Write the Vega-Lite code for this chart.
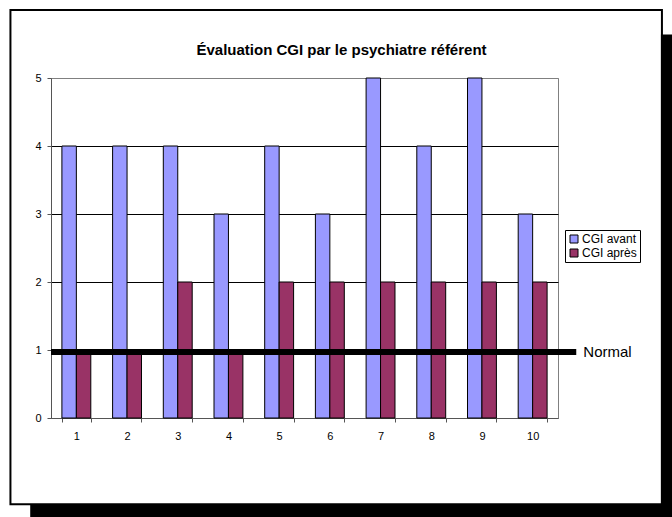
{
  "$schema": "https://vega.github.io/schema/vega-lite/v6.json",
  "width": 507,
  "height": 340,
  "autosize": "none",
  "padding": {"left": 51, "top": 78, "right": 114, "bottom": 99},
  "background": "white",
  "title": {
    "text": "Évaluation CGI par le psychiatre référent",
    "font": "Liberation Sans",
    "fontSize": 15,
    "fontWeight": "bold",
    "color": "black",
    "anchor": "middle",
    "dx": 37,
    "offset": -49
  },
  "config": {
    "font": "Liberation Sans",
    "view": {"stroke": "#808080", "strokeWidth": 1}
  },
  "data": {
    "values": [
      {"patient": 1, "serie": "CGI avant", "cgi": 4},
      {"patient": 1, "serie": "CGI après", "cgi": 1},
      {"patient": 2, "serie": "CGI avant", "cgi": 4},
      {"patient": 2, "serie": "CGI après", "cgi": 1},
      {"patient": 3, "serie": "CGI avant", "cgi": 4},
      {"patient": 3, "serie": "CGI après", "cgi": 2},
      {"patient": 4, "serie": "CGI avant", "cgi": 3},
      {"patient": 4, "serie": "CGI après", "cgi": 1},
      {"patient": 5, "serie": "CGI avant", "cgi": 4},
      {"patient": 5, "serie": "CGI après", "cgi": 2},
      {"patient": 6, "serie": "CGI avant", "cgi": 3},
      {"patient": 6, "serie": "CGI après", "cgi": 2},
      {"patient": 7, "serie": "CGI avant", "cgi": 5},
      {"patient": 7, "serie": "CGI après", "cgi": 2},
      {"patient": 8, "serie": "CGI avant", "cgi": 4},
      {"patient": 8, "serie": "CGI après", "cgi": 2},
      {"patient": 9, "serie": "CGI avant", "cgi": 5},
      {"patient": 9, "serie": "CGI après", "cgi": 2},
      {"patient": 10, "serie": "CGI avant", "cgi": 3},
      {"patient": 10, "serie": "CGI après", "cgi": 2}
    ]
  },
  "resolve": {"scale": {"x": "independent"}},
  "layer": [
    {
      "description": "Drop shadow, bottom strip",
      "data": {"values": [{}]},
      "mark": {"type": "rect", "fill": "black", "clip": false},
      "encoding": {
        "x": {"datum": -0.41, "type": "quantitative", "scale": {"domain": [0, 10], "nice": false, "zero": false}, "axis": null},
        "x2": {"datum": 12.6},
        "y": {"datum": -1.275, "type": "quantitative", "scale": {"domain": [0, 5], "nice": false}},
        "y2": {"datum": -1.7}
      }
    },
    {
      "description": "Drop shadow, right strip",
      "data": {"values": [{}]},
      "mark": {"type": "rect", "fill": "black", "clip": false},
      "encoding": {
        "x": {"datum": 12.03, "type": "quantitative", "scale": {"domain": [0, 10], "nice": false, "zero": false}, "axis": null},
        "x2": {"datum": 12.6},
        "y": {"datum": 5.64, "type": "quantitative"},
        "y2": {"datum": -1.7}
      }
    },
    {
      "description": "Chart frame",
      "data": {"values": [{}]},
      "mark": {"type": "rect", "fill": null, "stroke": "black", "strokeWidth": 2, "clip": false},
      "encoding": {
        "x": {"datum": -0.8, "type": "quantitative", "scale": {"domain": [0, 10], "nice": false, "zero": false}, "axis": null},
        "x2": {"datum": 12.05},
        "y": {"datum": 6.0, "type": "quantitative"},
        "y2": {"datum": -1.27}
      }
    },
    {
      "mark": {"type": "bar", "stroke": "black", "strokeWidth": 1},
      "encoding": {
        "x": {
          "field": "patient",
          "type": "ordinal",
          "scale": {"paddingInner": 0.43, "paddingOuter": 0.215},
          "axis": {
            "title": null,
            "labelAngle": 0,
            "labelFontSize": 11,
            "labelColor": "black",
            "labelPadding": 8,
            "tickBand": "extent",
            "tickSize": 4,
            "tickColor": "#555555",
            "domainColor": "#555555",
            "grid": false
          }
        },
        "xOffset": {"field": "serie", "type": "nominal", "sort": ["CGI avant", "CGI après"], "scale": {"paddingInner": 0}},
        "y": {
          "field": "cgi",
          "type": "quantitative",
          "scale": {"domain": [0, 5], "nice": false},
          "axis": {
            "title": null,
            "values": [0, 1, 2, 3, 4, 5],
            "format": "d",
            "labelFontSize": 11,
            "labelColor": "black",
            "labelPadding": 6,
            "tickSize": 4,
            "tickColor": "#555555",
            "domainColor": "#555555",
            "grid": true,
            "gridColor": {"condition": {"test": "datum.value == 5 || datum.value == 0", "value": "#808080"}, "value": "black"},
            "gridOpacity": 1
          }
        },
        "color": {
          "field": "serie",
          "type": "nominal",
          "sort": ["CGI avant", "CGI après"],
          "scale": {"domain": ["CGI avant", "CGI après"], "range": ["#9999FF", "#993366"]},
          "legend": {
            "title": null,
            "orient": "none",
            "legendX": 514,
            "legendY": 152,
            "strokeColor": "black",
            "fillColor": "white",
            "padding": 3,
            "symbolType": "square",
            "symbolSize": 64,
            "symbolStrokeColor": "black",
            "symbolStrokeWidth": 1,
            "symbolOpacity": 1,
            "labelFontSize": 12,
            "labelColor": "black",
            "labelOffset": 2,
            "rowPadding": 2
          }
        }
      }
    },
    {
      "description": "Normal threshold",
      "data": {"values": [{"niveau": 0.97, "libelle": "Normal"}]},
      "mark": {"type": "rule", "color": "black", "strokeWidth": 6, "clip": false},
      "encoding": {
        "x": {"datum": 0, "type": "quantitative", "scale": {"domain": [0, 10], "nice": false, "zero": false}, "axis": null},
        "x2": {"datum": 10.36},
        "y": {"field": "niveau", "type": "quantitative"}
      }
    },
    {
      "data": {"values": [{"niveau": 0.97, "libelle": "Normal"}]},
      "mark": {"type": "text", "align": "left", "baseline": "middle", "fontSize": 15, "color": "black", "clip": false},
      "encoding": {
        "x": {"datum": 10.5, "type": "quantitative", "scale": {"domain": [0, 10], "nice": false, "zero": false}, "axis": null},
        "y": {"field": "niveau", "type": "quantitative"},
        "text": {"field": "libelle"}
      }
    }
  ]
}
